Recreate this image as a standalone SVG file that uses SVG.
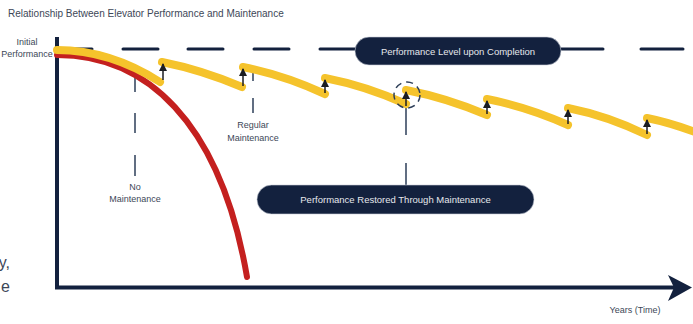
<svg xmlns="http://www.w3.org/2000/svg" width="693" height="324" viewBox="0 0 693 324">
<defs>
<style>
.t{font-family:"Liberation Sans",Arial,sans-serif;fill:#3d4757}
.pill{fill:#13213e;stroke:#c9ced8;stroke-width:0.6}
.pt{font-family:"Liberation Sans",Arial,sans-serif;font-size:9.5px;fill:#e6e8ec;text-anchor:middle}
.guide{stroke:#2d3e58;stroke-width:1.5;fill:none}
.dash{stroke:#13213e;stroke-width:3;stroke-linecap:round}
.yel{fill:none;stroke:#f5c32c;stroke-width:8;stroke-linecap:round;stroke-linejoin:round}
.arr{stroke:#1b1d22;stroke-width:1.5}
</style>
<marker id="ah" viewBox="0 0 8 8" refX="7" refY="4" markerWidth="8" markerHeight="8" markerUnits="userSpaceOnUse" orient="auto">
<path d="M0,0 L8,4 L0,8 Z" fill="#1b1d22"/>
</marker>
</defs>
<rect width="693" height="324" fill="#ffffff"/>

<text class="t" x="8" y="17" font-size="10">Relationship Between Elevator Performance and Maintenance</text>
<text class="t" x="10" y="268" font-size="16" text-anchor="end" fill="#333">y,</text>
<text class="t" x="10" y="292" font-size="16" text-anchor="end" fill="#333">e</text>

<g id="axes">
<line x1="57" y1="37" x2="57" y2="289" stroke="#13213e" stroke-width="4"/>
<line x1="55" y1="287.5" x2="675" y2="287.5" stroke="#13213e" stroke-width="4"/>
<path d="M668,275 L692,287.5 L668,301 L674,287.5 Z" fill="#13213e"/>
<text class="t" x="27" y="45" font-size="9" text-anchor="middle">Initial</text>
<text class="t" x="27" y="57" font-size="9" text-anchor="middle">Performance</text>
<text class="t" x="635" y="313" font-size="9" text-anchor="middle">Years (Time)</text>
</g>

<g id="completion-line">
<line class="dash" x1="58" y1="49" x2="92" y2="49"/>
<line class="dash" x1="123" y1="49" x2="158" y2="49"/>
<line class="dash" x1="188" y1="49" x2="223" y2="49"/>
<line class="dash" x1="254" y1="49" x2="289" y2="49"/>
<line class="dash" x1="320" y1="49" x2="358" y2="49"/>
<line class="dash" x1="558" y1="49" x2="603" y2="49"/>
<line class="dash" x1="641" y1="49" x2="683" y2="49"/>
</g>

<g id="connectors">
<line class="guide" x1="135" y1="72" x2="135" y2="92"/>
<line class="guide" x1="135" y1="113" x2="135" y2="133"/>
<line class="guide" x1="135" y1="155" x2="135" y2="176"/>
<line class="guide" x1="253" y1="66" x2="253" y2="81"/>
<line class="guide" x1="253" y1="98" x2="253" y2="113"/>
<line class="guide" x1="406" y1="105" x2="406" y2="135"/>
<line class="guide" x1="406" y1="163" x2="406" y2="186"/>
</g>

<g id="no-maintenance-curve">
<path d="M57,55 C145,55 220,120 247,277" fill="none" stroke="#c4201f" stroke-width="6" stroke-linecap="round"/>
</g>

<g id="regular-maintenance-curve">
<path class="yel" d="M57,50 Q110,50 160,82"/>
<path class="yel" d="M162,62 Q202,70 242,87"/>
<path class="yel" d="M243,67 Q284,75 325,94"/>
<path class="yel" d="M325,78 Q366,86 406,104"/>
<path class="yel" d="M406,90 Q447,98 487,115"/>
<path class="yel" d="M487,99 Q528,107 568,125"/>
<path class="yel" d="M568,108 Q608,116 647,135"/>
<path class="yel" d="M647,118 Q672,123 700,134"/>
</g>

<g id="restore-arrows">
<line class="arr" x1="163" y1="80" x2="163" y2="64" marker-end="url(#ah)"/>
<line class="arr" x1="243" y1="86" x2="243" y2="69" marker-end="url(#ah)"/>
<line class="arr" x1="325" y1="93" x2="325" y2="80" marker-end="url(#ah)"/>
<line class="arr" x1="406" y1="106" x2="406" y2="92" marker-end="url(#ah)"/>
<line class="arr" x1="487" y1="114" x2="487" y2="101" marker-end="url(#ah)"/>
<line class="arr" x1="568" y1="124" x2="568" y2="110" marker-end="url(#ah)"/>
<line class="arr" x1="647" y1="134" x2="647" y2="120" marker-end="url(#ah)"/>
</g>

<g id="highlight-circle">
<circle cx="407" cy="95" r="13" fill="none" stroke="#2d3e58" stroke-width="1.5" stroke-dasharray="7 5"/>
</g>

<g id="label-no-maintenance">
<text class="t" x="135" y="190" font-size="9" text-anchor="middle">No</text>
<text class="t" x="135" y="202" font-size="9" text-anchor="middle">Maintenance</text>
</g>

<g id="label-regular-maintenance">
<text class="t" x="253" y="128" font-size="9" text-anchor="middle">Regular</text>
<text class="t" x="253" y="141" font-size="9" text-anchor="middle">Maintenance</text>
</g>

<g id="pill-completion">
<rect class="pill" x="355" y="37" width="206" height="28" rx="14"/>
<text class="pt" x="458" y="54.5">Performance Level upon Completion</text>
</g>

<g id="pill-restored">
<rect class="pill" x="257" y="185" width="277" height="29" rx="14.5"/>
<text class="pt" x="395.5" y="202.5">Performance Restored Through Maintenance</text>
</g>
</svg>
